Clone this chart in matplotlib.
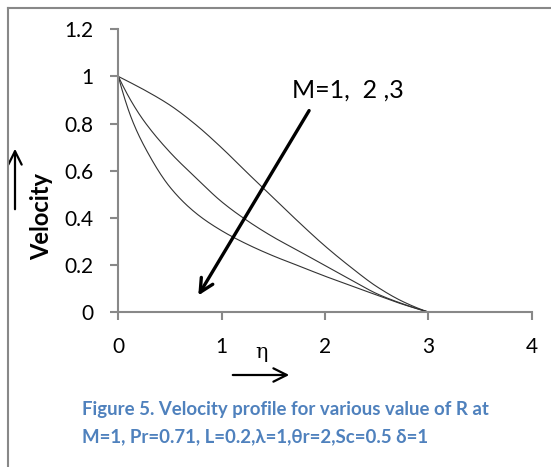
import numpy as np
import matplotlib
matplotlib.use("Agg")
import matplotlib.pyplot as plt
from matplotlib.lines import Line2D
from matplotlib.patches import FancyArrowPatch

# ---- data ----
eta = [0, 0.125, 0.25, 0.5, 0.75, 1.0, 1.25, 1.5, 1.75, 2.0, 2.25, 2.5, 2.75, 3.0]
v_m1 = [1.0, 0.972, 0.943, 0.878, 0.795, 0.697, 0.59, 0.485, 0.38, 0.28, 0.19, 0.108, 0.045, 0.0]
v_m2 = [1.0, 0.895, 0.81, 0.678, 0.57, 0.468, 0.387, 0.318, 0.258, 0.197, 0.137, 0.078, 0.035, 0.0]
v_m3 = [1.0, 0.825, 0.705, 0.53, 0.42, 0.345, 0.287, 0.238, 0.195, 0.152, 0.112, 0.072, 0.033, 0.0]
series = [v_m1, v_m2, v_m3]
xticks = [0, 1, 2, 3, 4]
yticks = [0, 0.2, 0.4, 0.6, 0.8, 1, 1.2]
ytick_labels = ["0", "0.2", "0.4", "0.6", "0.8", "1", "1.2"]
annot_text = "M=1,  2 ,3"
ylabel = "Velocity"
xlabel = "\u03b7"
caption1 = "Figure 5. Velocity profile for various value of R at"
caption2 = "M=1, Pr=0.71, L=0.2,\u03bb=1,\u03b8r=2,Sc=0.5 \u03b4=1"

plt.rcParams['font.family'] = ['Lato', 'DejaVu Sans']


def pchip(x, y, n=25):
    """Monotone cubic Hermite rendering of the data points (smoothed line)."""
    x = np.asarray(x, float); y = np.asarray(y, float)
    h = np.diff(x); d = np.diff(y) / h
    m = np.zeros_like(y)
    for k in range(1, len(x) - 1):
        if d[k - 1] * d[k] <= 0:
            m[k] = 0
        else:
            w1 = 2 * h[k] + h[k - 1]; w2 = h[k] + 2 * h[k - 1]
            m[k] = (w1 + w2) / (w1 / d[k - 1] + w2 / d[k])
    m[0] = ((2 * h[0] + h[1]) * d[0] - h[0] * d[1]) / (h[0] + h[1])
    m[-1] = ((2 * h[-1] + h[-2]) * d[-1] - h[-1] * d[-2]) / (h[-1] + h[-2])
    xs, ys = [], []
    for k in range(len(x) - 1):
        t = np.linspace(0, 1, n, endpoint=False)
        h00 = 2 * t ** 3 - 3 * t ** 2 + 1; h10 = t ** 3 - 2 * t ** 2 + t
        h01 = -2 * t ** 3 + 3 * t ** 2; h11 = t ** 3 - t ** 2
        xs.extend(x[k] + t * h[k])
        ys.extend(h00 * y[k] + h10 * h[k] * m[k] + h01 * y[k + 1] + h11 * h[k] * m[k + 1])
    xs.append(x[-1]); ys.append(y[-1])
    return np.array(xs), np.array(ys)


W, H = 551, 467
fig = plt.figure(figsize=(W / 100, H / 100), dpi=100)
ax = fig.add_axes([118.3 / W, 1 - 312 / H, (531.7 - 118.3) / W, (312 - 29.3) / H])

for s in series:
    xs, ys = pchip(eta, s)
    ax.plot(xs, ys, color='#333333', lw=0.8)

ax.set_xlim(0, 4)
ax.set_ylim(0, 1.2)
ax.set_xticks(xticks)
ax.set_yticks(yticks)
ax.set_yticklabels(ytick_labels)
for sp in ['top', 'right']:
    ax.spines[sp].set_visible(False)
for sp in ['left', 'bottom']:
    ax.spines[sp].set_color('#888888')
    ax.spines[sp].set_linewidth(1.5)
ax.tick_params(axis='both', direction='out', length=6, width=1.5, color='#888888',
               labelsize=15, labelcolor='black')
ax.tick_params(axis='x', pad=12)
ax.tick_params(axis='y', pad=12)

# annotation arrow and text
ax.annotate('', xy=(0.76, 0.06), xytext=(1.86, 0.865),
            arrowprops=dict(arrowstyle='->', lw=2.4, color='black', mutation_scale=24))
ax.text(1.68, 0.94, annot_text, fontsize=18, va='center', ha='left')

# y label with arrow
fig.text(42 / W, 1 - 216 / H, ylabel, rotation=90, fontsize=17, fontweight='bold',
         ha='center', va='center')
fig.add_artist(FancyArrowPatch((15 / W, 1 - 212 / H), (15 / W, 1 - 146 / H),
                               transform=fig.transFigure, arrowstyle='->',
                               mutation_scale=24, lw=1.6, color='black'))

# x label with arrow
fig.text(262 / W, 1 - 352 / H, xlabel, fontsize=15, family='DejaVu Serif',
         ha='center', va='center')
fig.add_artist(FancyArrowPatch((230 / W, 1 - 375 / H), (292 / W, 1 - 375 / H),
                               transform=fig.transFigure, arrowstyle='->',
                               mutation_scale=24, lw=1.6, color='black'))

# frame lines
fig.add_artist(Line2D([8 / W, 8 / W], [0, 1 - 8 / H], transform=fig.transFigure,
                      color='#888888', lw=1.5))
fig.add_artist(Line2D([8 / W, 1], [1 - 8 / H, 1 - 8 / H], transform=fig.transFigure,
                      color='#888888', lw=1.5))

# caption
fig.text(82 / W, 1 - 410 / H, caption1, fontsize=13.4, fontweight='bold', color='#4F81BD',
         ha='left', va='center')
fig.text(82 / W, 1 - 437 / H, caption2, fontsize=13.4, fontweight='bold', color='#4F81BD',
         ha='left', va='center')

fig.savefig('out.png', dpi=100)
